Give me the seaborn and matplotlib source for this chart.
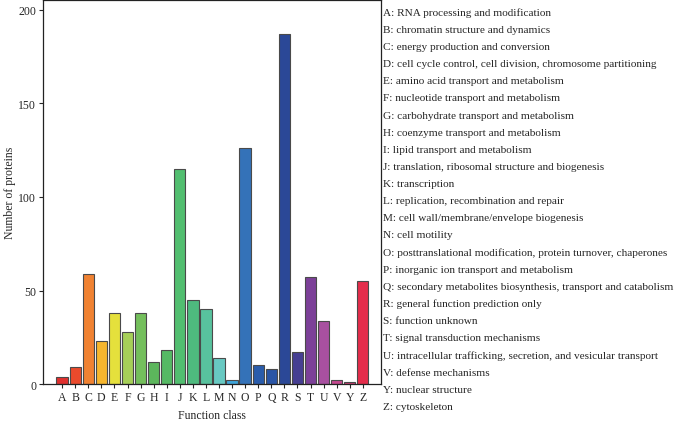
import matplotlib
matplotlib.use("Agg")
import matplotlib.pyplot as plt
import seaborn as sns
import pandas as pd

classes = ['A', 'B', 'C', 'D', 'E', 'F', 'G', 'H', 'I', 'J', 'K', 'L', 'M',
           'N', 'O', 'P', 'Q', 'R', 'S', 'T', 'U', 'V', 'Y', 'Z']
counts = [4, 9, 59, 23, 38, 28, 38, 12, 18, 115, 45, 40, 14,
          2, 126, 10, 8, 187, 17, 57, 34, 2, 1, 55]
colors = ['#e0302e', '#ea4a2c', '#f08232', '#f6b62e', '#e5e03c', '#a6cf58',
          '#74bf5c', '#5cb65c', '#55b964', '#52be70', '#4eba7e', '#58c29e',
          '#68c9c2', '#3fa6db', '#3472b8', '#2a5cab', '#2a55a6', '#2b4897',
          '#463f92', '#7c4098', '#a850a0', '#c4488f', '#cf3f78', '#e42d4b']
descriptions = [
    'A: RNA processing and modification',
    'B: chromatin structure and dynamics',
    'C: energy production and conversion',
    'D: cell cycle control, cell division, chromosome partitioning',
    'E: amino acid transport and metabolism',
    'F: nucleotide transport and metabolism',
    'G: carbohydrate transport and metabolism',
    'H: coenzyme transport and metabolism',
    'I: lipid transport and metabolism',
    'J: translation, ribosomal structure and biogenesis',
    'K: transcription',
    'L: replication, recombination and repair',
    'M: cell wall/membrane/envelope biogenesis',
    'N: cell motility',
    'O: posttranslational modification, protein turnover, chaperones',
    'P: inorganic ion transport and metabolism',
    'Q: secondary metabolites biosynthesis, transport and catabolism',
    'R: general function prediction only',
    'S: function unknown',
    'T: signal transduction mechanisms',
    'U: intracellular trafficking, secretion, and vesicular transport',
    'V: defense mechanisms',
    'Y: nuclear structure',
    'Z: cytoskeleton',
]

sns.set_style("ticks")
plt.rcParams['font.family'] = ['Liberation Serif', 'DejaVu Serif']

df = pd.DataFrame({'cls': classes, 'n': counts})

fig = plt.figure(figsize=(6.75, 4.27), dpi=100)
ax = fig.add_axes([0.064, 0.098, 0.5, 0.9])

sns.barplot(data=df, x='cls', y='n', hue='cls', palette=colors, legend=False,
            saturation=1, width=0.87, edgecolor='#4a4a4a', linewidth=0.8, ax=ax)

ax.set_xlim(-1.45, 24.37)
ax.set_ylim(0, 205.3)
ax.set_yticks([0, 50, 100, 150, 200])
ax.set_xlabel('Function class', fontsize=8.5, labelpad=4)
ax.set_ylabel('Number of proteins', fontsize=8.5, labelpad=2)
ax.tick_params(axis='both', labelsize=8.5, length=3, width=0.8, pad=2)
for s in ax.spines.values():
    s.set_linewidth(0.9)
    s.set_color('#222222')

# category descriptions to the right of the plot
y0 = 1 - 13.3 / 427
dy = 17.13 / 427
for i, txt in enumerate(descriptions):
    fig.text(383 / 675, y0 - i * dy, txt, fontsize=8.1, va='center', ha='left')

fig.savefig('out.png', dpi=100)
